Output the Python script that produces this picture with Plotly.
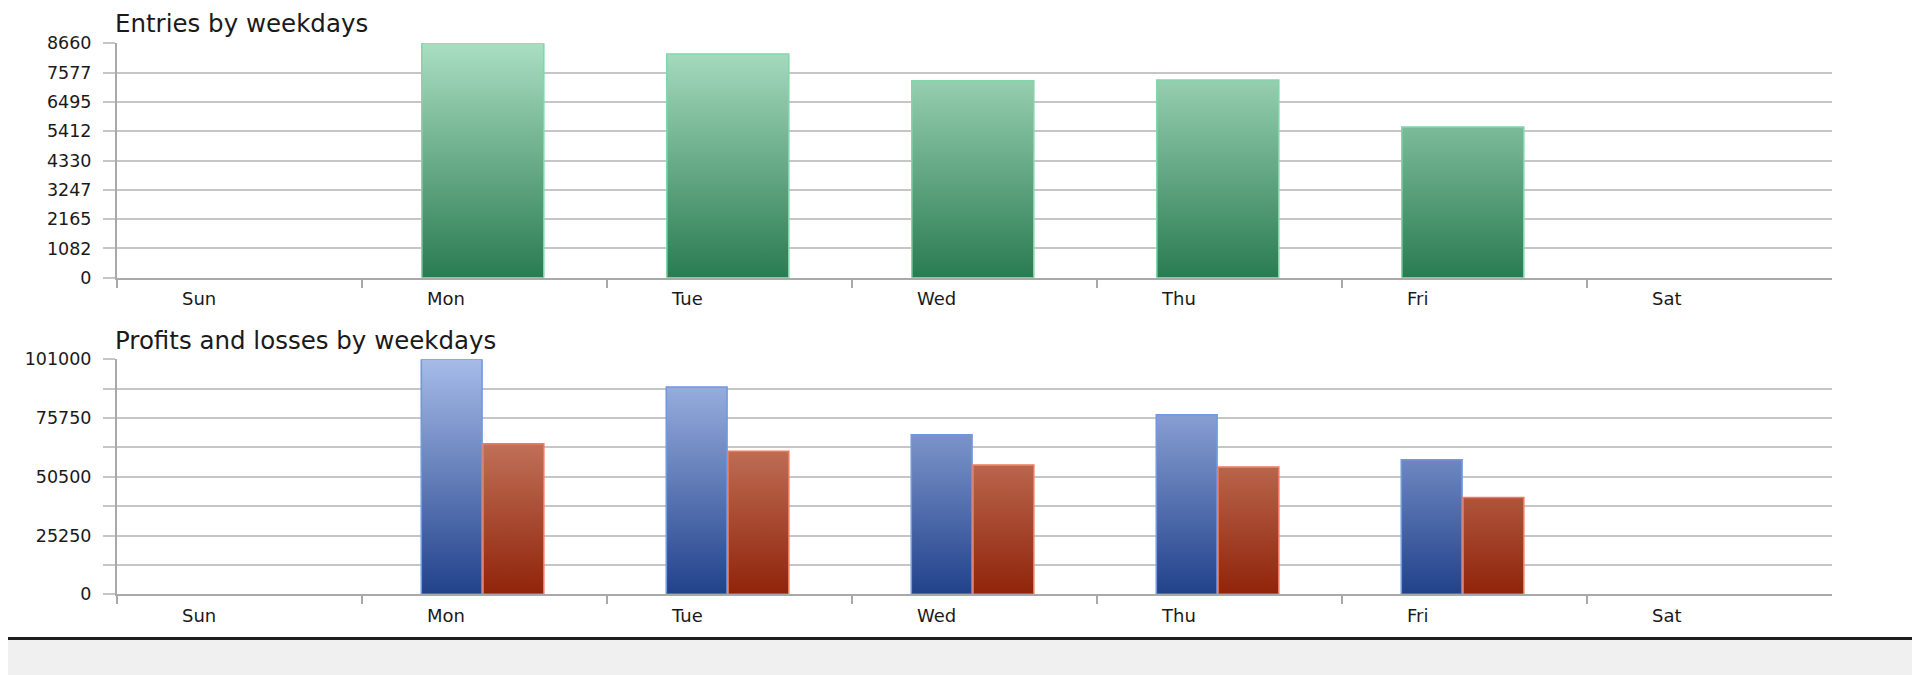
import plotly.graph_objects as go

# ---------------- data ----------------
days = ["Sun", "Mon", "Tue", "Wed", "Thu", "Fri", "Sat"]
entries = [0, 8660, 8265, 7270, 7305, 5570, 0]
profits = [0, 101000, 89100, 68600, 77200, 57800, 0]
losses = [0, 64650, 61500, 55500, 54650, 41600, 0]

entries_ticks = [0, 1082.5, 2165, 3247.5, 4330, 5412.5, 6495, 7577.5, 8660]
entries_ticktext = ["0", "1082", "2165", "3247", "4330", "5412", "6495", "7577", "8660"]
pl_ticks = [0, 12625, 25250, 37875, 50500, 63125, 75750, 88375, 101000]
pl_ticktext = ["0", "", "25250", "", "50500", "", "75750", "", "101000"]

title_top = "Entries by weekdays"
title_bottom = "Profits and losses by weekdays"

# ---------------- style ----------------
OFF = 8                      # page body margin around the plot div
W, H = 1920 - OFF, 675 - OFF
FONT = "DejaVu Sans"
GRID = "#c6c6c6"
AXIS = "#a9a9a9"
TXT = "#1a1a1a"


def px(xp):
    return (xp - OFF) / W


def py(yp):
    return (H - (yp - OFF)) / H


def bar_polygons(values, left, right):
    xs, ys = [], []
    for i, v in enumerate(values):
        if v:
            x0, x1 = i + left, i + right
            xs += [x0, x0, x1, x1, x0, None]
            ys += [0, v, v, 0, 0, None]
    return xs, ys


def bar_trace(values, left, right, dark, light, edge, top, xa, ya, name):
    xs, ys = bar_polygons(values, left, right)
    return go.Scatter(
        x=xs, y=ys, mode="lines", fill="toself", name=name,
        line=dict(color=edge, width=1.6),
        fillgradient=dict(type="vertical", colorscale=[[0, dark], [1, light]],
                          start=0, stop=top),
        hoverinfo="skip", showlegend=False, xaxis=xa, yaxis=ya,
    )


fig = go.Figure()
fig.add_trace(bar_trace(entries, -0.256, 0.242, "#2a7b52", "#aadec2", "#82d6a8",
                        entries_ticks[-1], "x", "y", "Entries"))
fig.add_trace(bar_trace(profits, -0.258, -0.01, "#21418a", "#a6bbe8", "#7198e2",
                        pl_ticks[-1], "x2", "y2", "Profits"))
fig.add_trace(bar_trace(losses, -0.006, 0.242, "#8f240a", "#dc9a84", "#ee7a5c",
                        pl_ticks[-1], "x2", "y2", "Losses"))

xdom = [px(117), px(1832)]
ydom_top = [py(277.7), py(43.3)]
ydom_bot = [py(594.3), py(359.3)]

xaxis_common = dict(
    range=[-0.5, 6.5], domain=xdom,
    tickmode="array", tickvals=[i - 0.5 for i in range(len(days))], ticktext=days,
    ticks="outside", ticklen=8, tickwidth=2, tickcolor=AXIS,
    ticklabelposition="outside right", ticklabelshift=63, ticklabelstandoff=4,
    tickfont=dict(family=FONT, size=18, color=TXT),
    showgrid=False, zeroline=False,
    showline=True, linecolor=AXIS, linewidth=2,
    fixedrange=True,
)
yaxis_common = dict(
    tickmode="array",
    ticks="outside", ticklen=12, tickwidth=2, tickcolor=GRID,
    ticklabelstandoff=8,
    tickfont=dict(family=FONT, size=17.5, color=TXT),
    showgrid=True, gridcolor=GRID, gridwidth=2,
    zeroline=False, showline=True, linecolor=AXIS, linewidth=2,
    automargin=False, fixedrange=True,
)

fig.update_layout(
    width=W, height=H,
    margin=dict(l=0, r=0, t=0, b=0),
    paper_bgcolor="white", plot_bgcolor="white",
    showlegend=False,
    xaxis=dict(**xaxis_common, anchor="y"),
    yaxis=dict(**yaxis_common, domain=ydom_top, range=[0, entries_ticks[-1]],
               tickvals=entries_ticks, ticktext=entries_ticktext, anchor="x"),
    xaxis2=dict(**xaxis_common, anchor="y2"),
    yaxis2=dict(**yaxis_common, domain=ydom_bot, range=[0, pl_ticks[-1]],
                tickvals=pl_ticks, ticktext=pl_ticktext, anchor="x2"),
    annotations=[
        dict(text=title_top, xref="paper", yref="paper", x=px(113), y=py(24),
             xanchor="left", yanchor="middle", showarrow=False,
             font=dict(family=FONT, size=24.5, color=TXT)),
        dict(text=title_bottom, xref="paper", yref="paper", x=px(113), y=py(340),
             xanchor="left", yanchor="middle", showarrow=False,
             font=dict(family=FONT, size=24.5, color=TXT)),
    ],
    shapes=[
        dict(type="rect", xref="paper", yref="paper", x0=0, x1=1,
             y0=0, y1=py(640), fillcolor="#f0f0f0", line=dict(width=0), layer="below"),
        dict(type="rect", xref="paper", yref="paper", x0=0, x1=1,
             y0=py(640), y1=py(637), fillcolor="#1e1e1e", line=dict(width=0),
             layer="above"),
    ],
)

fig.write_html("out.html")
